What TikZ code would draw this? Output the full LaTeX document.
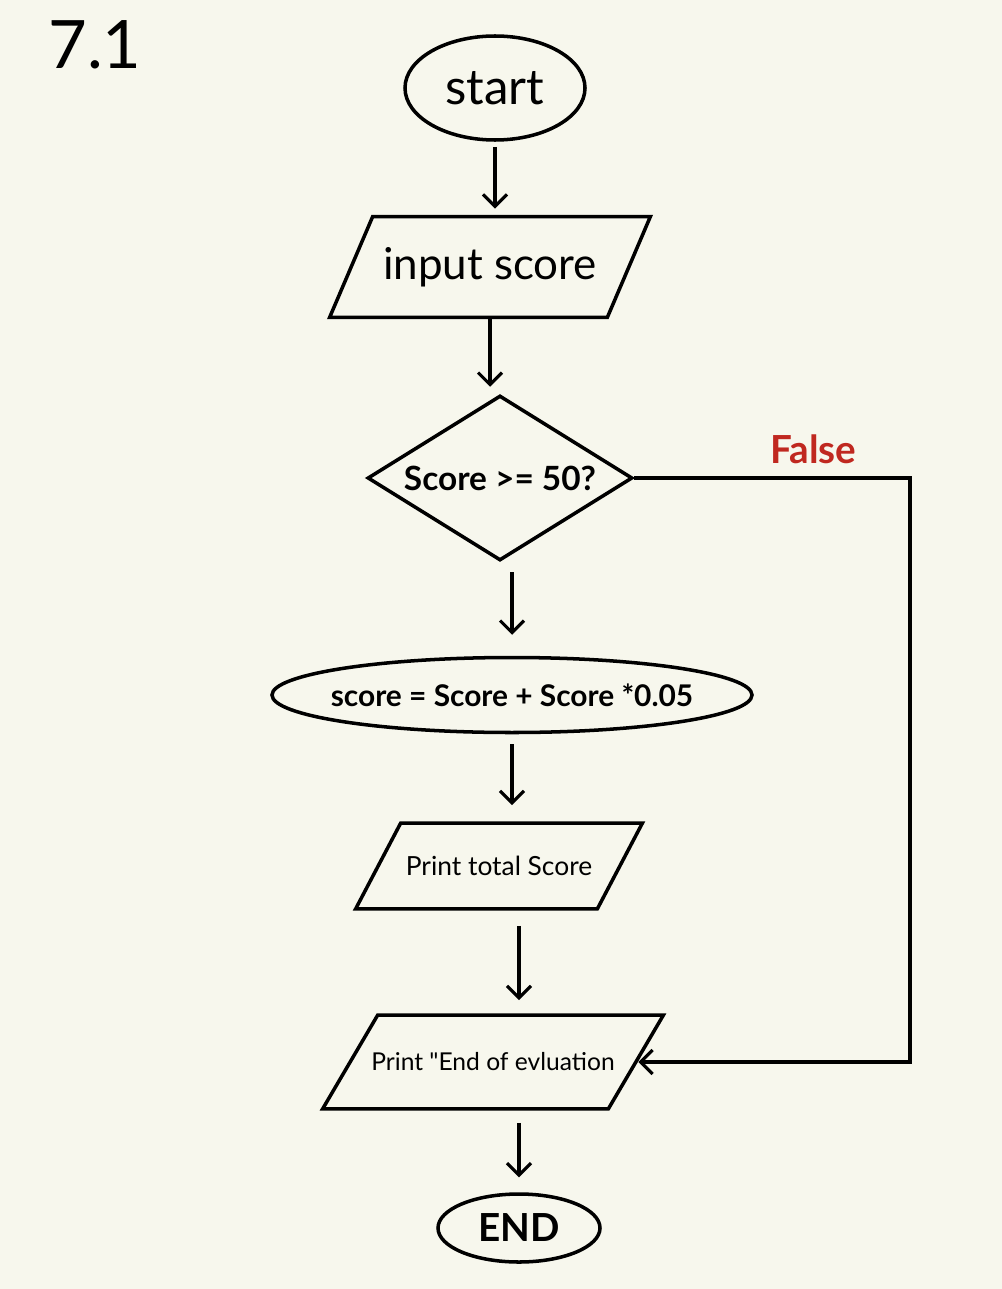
\documentclass[tikz,border=0pt]{standalone}
\usepackage{fontspec}
\setmainfont{Lato}
\usepackage{xcolor}
\usepackage{tikz}
\usetikzlibrary{shapes.geometric, arrows.meta}
\definecolor{paper}{RGB}{247,247,237}
\definecolor{falsered}{RGB}{192,40,32}

\begin{document}
\begin{tikzpicture}[
            box/.style={draw=black, line width=2pt, inner sep=0pt},
            terminal/.style={box, shape=ellipse},
            io/.style={inner sep=0pt, shape=rectangle},
            ioline/.style={line width=2pt, line join=miter},
            decision/.style={box, shape=diamond, aspect=1.6},
            flow/.style={line width=1.8pt, -{Straight Barb[length=2.4mm, width=4.8mm]}, shorten <=0.2cm, shorten >=0.3cm}
        ]
            \fill[paper] (0, 0) rectangle (20.04, -25.78);
            \useasboundingbox (0, 0) rectangle (20.04, -25.78);

            \node[font=\fontsize{38}{38}\selectfont] (title) at (1.9, -0.9) {7.1};

            \node[terminal, minimum width=3.6cm, minimum height=2.08cm, font=\fontsize{28}{28}\selectfont] (start) at (9.9, -1.76) {start};
            \node[io, minimum width=5.54cm, minimum height=2cm, font=\fontsize{25}{25}\selectfont] (input) at (9.8, -5.34) {input score};
            \node[decision, minimum width=5.3cm, minimum height=3.3cm, font=\fontsize{19}{19}\selectfont\bfseries] (dec) at (10.0, -9.56) {Score >= 50?};
            \node[terminal, minimum width=9.6cm, minimum height=1.5cm, inner xsep=-0.4cm, font=\fontsize{17}{17}\selectfont\bfseries] (update) at (10.24, -13.9) {score = Score + Score *0.05};
            \node[io, minimum width=4.82cm, minimum height=1.7cm, font=\fontsize{15}{15}\selectfont] (print) at (9.98, -17.32) {Print total Score};
            \node[io, minimum width=5.7cm, minimum height=1.86cm, font=\fontsize{14}{14}\selectfont] (printEnd) at (9.86, -21.24) {Print \textquotedbl End of evluation};
            \node[terminal, minimum width=3.24cm, minimum height=1.36cm, font=\fontsize{22}{22}\selectfont\bfseries] (endnode) at (10.38, -24.56) {END};

            \draw[ioline] ([xshift=-0.43cm]input.south west) -- ([xshift=0.43cm]input.north west) -- ([xshift=0.43cm]input.north east) -- ([xshift=-0.43cm]input.south east) -- cycle;
            \draw[ioline] ([xshift=-0.45cm]print.south west) -- ([xshift=0.45cm]print.north west) -- ([xshift=0.45cm]print.north east) -- ([xshift=-0.45cm]print.south east) -- cycle;
            \draw[ioline] ([xshift=-0.55cm]printEnd.south west) -- ([xshift=0.55cm]printEnd.north west) -- ([xshift=0.55cm]printEnd.north east) -- ([xshift=-0.55cm]printEnd.south east) -- cycle;

            \coordinate (fturn) at (18.2, -9.56);

            \path[flow, shorten <=0.1cm, shorten >=0.16cm] (start) edge (start |- input.north);
            \path[flow, shorten <=0.02cm, shorten >=0.14cm] (input) edge (input |- dec.north);
            \path[flow, shorten >=0.42cm] (update |- dec.south) edge (update);
            \path[flow, shorten >=0.36cm] (update) edge (update |- print.north);
            \path[flow, shorten <=0.34cm] (endnode |- print.south) edge (endnode |- printEnd.north);
            \path[flow, shorten <=0.28cm] (endnode |- printEnd.south) edge (endnode);

            \draw[flow, shorten <=0pt, shorten >=0.05cm] (dec.east) -- node[pos=0.65, above=4pt, text=falsered, font=\fontsize{22}{22}\selectfont\bfseries] (flabel) {False} (fturn) |- (printEnd);

        \end{tikzpicture}
\end{document}
